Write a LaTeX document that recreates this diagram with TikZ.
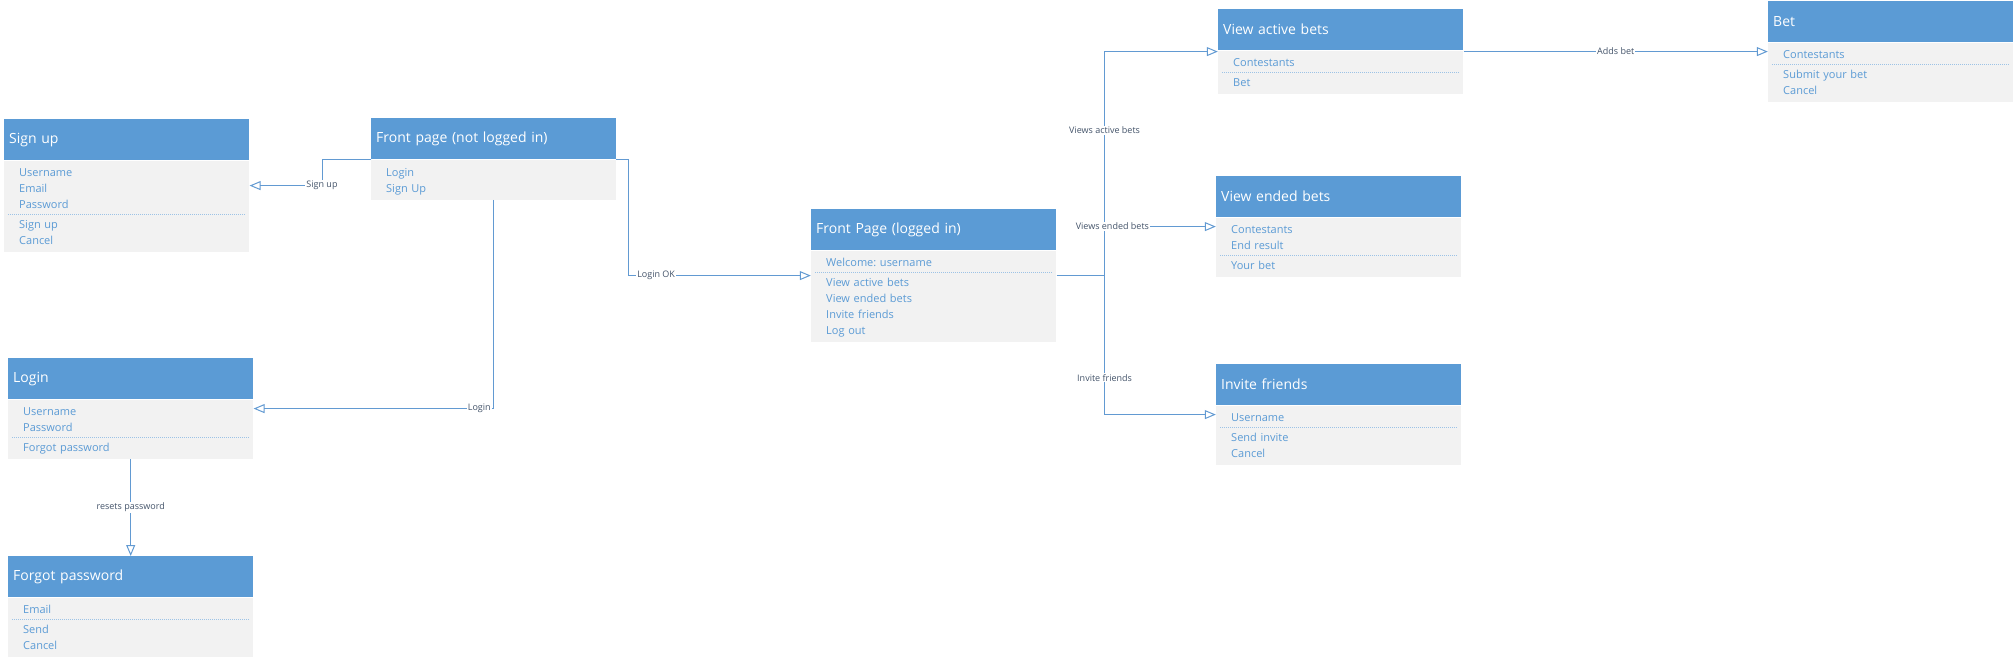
\documentclass[tikz,border=0pt]{standalone}
\usepackage{fontspec}
\setmainfont{Open Sans}
\usetikzlibrary{arrows.meta,positioning,fit}
\definecolor{hdblue}{RGB}{91,155,213}
\definecolor{bodygray}{RGB}{242,242,242}
\definecolor{itemblue}{RGB}{91,155,213}
\definecolor{sepblue}{RGB}{157,195,230}
\definecolor{linkblue}{RGB}{98,154,210}
\definecolor{lbltext}{RGB}{68,84,106}
\frenchspacing

\begin{document}
\begin{tikzpicture}[x=1pt,y=-1pt,>={Triangle[open,length=11pt,width=9pt]},
  head/.style={fill=hdblue,text=white,font=\fontsize{14}{16}\selectfont,anchor=north west,
    text width=235pt,inner xsep=5pt,inner ysep=0pt,minimum height=41pt,align=left},
  part/.style={fill=bodygray,text=itemblue,font=\fontsize{11}{16}\selectfont,
    text width=215pt,inner xsep=15pt,align=left,execute at end node=\strut},
  upper/.style={part,inner ysep=1.4pt,execute at begin node={\rule{0pt}{14.4pt}}},
  lower/.style={part,inner ysep=2.4pt,execute at begin node={\rule{0pt}{11.4pt}}},
  single/.style={part,inner ysep=2.4pt,execute at begin node={\rule{0pt}{14.4pt}}},
  screen/.style={fit=#1,inner sep=0pt},
  sepline/.style={draw=sepblue,line width=1pt,dash pattern=on 1pt off 1pt},
  flow/.style={draw=linkblue,line width=1pt,->},
  lbl/.style={fill=white,text=lbltext,font=\fontsize{9}{10}\selectfont,inner sep=1pt}]
  \useasboundingbox (0,0) rectangle (2014,660);

  % left column
  \node[head] (signuph) at (4,119) {Sign up};
  \node[upper,below=0pt of signuph] (signupu) {Username\\Email\\Password};
  \node[lower,below=0pt of signupu] (signupl) {Sign up\\Cancel};
  \node[screen={(signuph)(signupl)}] (signup) {};

  \node[head] (loginh) at (8,358) {Login};
  \node[upper,below=0pt of loginh] (loginu) {Username\\Password};
  \node[lower,below=0pt of loginu] (loginl) {Forgot password};
  \node[screen={(loginh)(loginl)}] (login) {};

  \node[head] (forgoth) at (8,556) {Forgot password};
  \node[upper,below=0pt of forgoth] (forgotu) {Email};
  \node[lower,below=0pt of forgotu] (forgotl) {Send\\Cancel};

  \node[head] (fpnh) at (371,118) {Front page (not logged in)};
  \node[single,below=0pt of fpnh] (fpnb) {Login\\Sign Up};

  % logged in
  \node[head] (fplogh) at (811,209) {Front Page (logged in)};
  \node[upper,below=0pt of fplogh] (fplogu) {Welcome: username};
  \node[lower,below=0pt of fplogu] (fplogl) {View active bets\\View ended bets\\Invite friends\\Log out};
  \node[screen={(fplogh)(fplogl)}] (fplog) {};

  % right column
  \node[head] (activeh) at (1218,9) {View active bets};
  \node[upper,below=0pt of activeh] (activeu) {Contestants};
  \node[lower,below=0pt of activeu] (activel) {Bet};
  \node[screen={(activeh)(activel)}] (active) {};

  \node[head] (endedh) at (1216,176) {View ended bets};
  \node[upper,below=0pt of endedh] (endedu) {Contestants\\End result};
  \node[lower,below=0pt of endedu] (endedl) {Your bet};
  \node[screen={(endedh)(endedl)}] (ended) {};

  \node[head] (inviteh) at (1216,364) {Invite friends};
  \node[upper,below=0pt of inviteh] (inviteu) {Username};
  \node[lower,below=0pt of inviteu] (invitel) {Send invite\\Cancel};
  \node[screen={(inviteh)(invitel)}] (invite) {};

  \node[head] (beth) at (1768,1) {Bet};
  \node[upper,below=0pt of beth] (betu) {Contestants};
  \node[lower,below=0pt of betu] (betl) {Submit your bet\\Cancel};
  \node[screen={(beth)(betl)}] (bet) {};

  \foreach \s in {signupu,loginu,forgotu,fplogu,activeu,endedu,inviteu,betu}
    \draw[sepline] ([xshift=4pt]\s.south west) -- ([xshift=-4pt]\s.south east);

  % connectors
  \draw[flow] (fpnh.south west) -- ++(-49,0) |- node[lbl,pos=0.5] {Sign up} (signup.east);
  \draw[flow] (fpnb.south) |- node[lbl,pos=0.53] {Login} (login.east);
  \draw[flow] (fpnh.south east) -- ++(12,0) |- node[lbl,pos=0.576] {Login OK} (fplog.west);
  \draw[flow] (loginl.south) -- node[lbl] {resets password} (forgoth.north);

  \coordinate (hub) at ([xshift=48pt]fplog.east);
  \draw[flow,-] (fplog.east) -- (hub);
  \draw[flow] (hub) |- node[lbl,pos=0.324] {Views active bets} (active.west);
  \draw[flow] (hub) |- node[lbl,pos=0.367] {Invite friends} (invite.west);
  \draw[flow] (hub) |- node[lbl,pos=0.535] {Views ended bets} (ended.west);
  \draw[flow] (active.east) -- node[lbl] {Adds bet} (bet.west);
\end{tikzpicture}
\end{document}
